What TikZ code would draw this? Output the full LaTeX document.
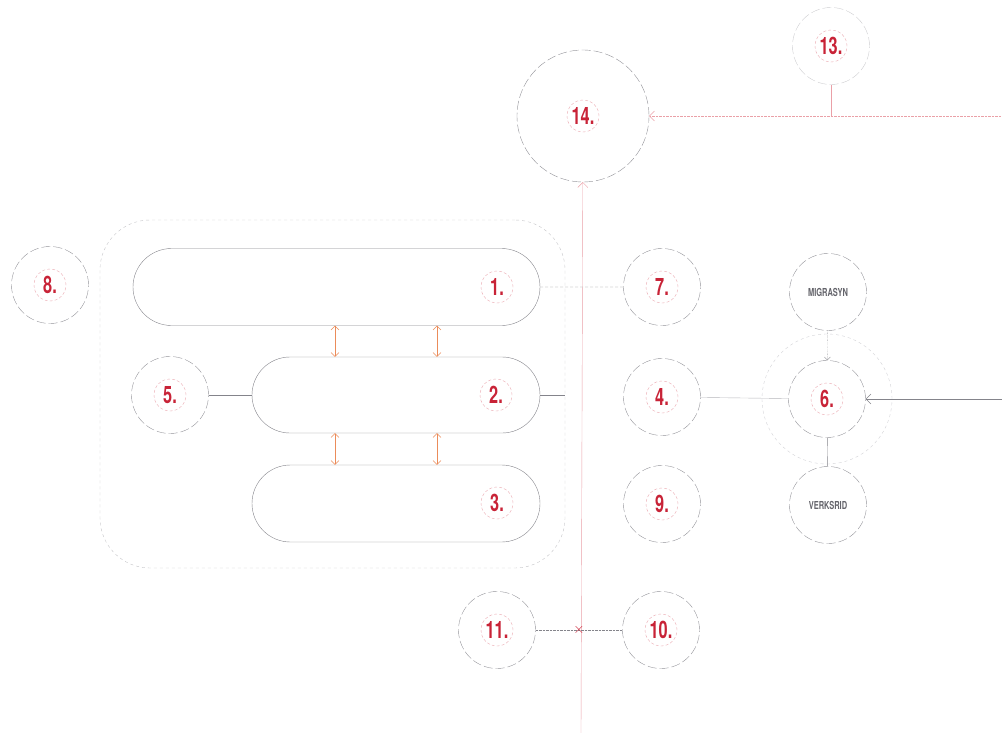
\documentclass[tikz,border=0pt]{standalone}
\usepackage{fontspec}
\usepackage{tikz}
\usetikzlibrary{arrows.meta,shapes.misc}
\usepackage{xcolor}
\newfontfamily\tagfont[FakeStretch=0.68]{TeX Gyre Heros}
\definecolor{tagred}{RGB}{200,35,55}
\definecolor{ringgrey}{RGB}{110,110,118}
\definecolor{linkpink}{RGB}{225,120,130}
\definecolor{pairorange}{RGB}{235,140,90}

\begin{document}
\begin{tikzpicture}[x=1pt, y=-1pt,
    ring/.style={circle, draw=ringgrey!75, dash pattern=on 9pt off 3pt, thin,
      minimum size=77pt, inner sep=0pt},
    tag/.style={circle, draw=tagred!40, densely dashed, thin, inner sep=0pt,
      minimum size=32pt, text=tagred, font=\tagfont\bfseries\fontsize{24}{26}\selectfont},
    word/.style={text=ringgrey!90!black, font=\tagfont\bfseries\fontsize{11}{12}\selectfont},
    pill/.style={rounded rectangle, draw=ringgrey!85, thin, inner sep=0pt},
    link/.style={draw=ringgrey!85, thin},
    spine/.style={draw=linkpink!70, thin},
    pair/.style={pairorange, thin, {Straight Barb[length=4pt]}-{Straight Barb[length=4pt]}},
  ]
  \useasboundingbox (0,0) rectangle (1002,733);

  % Group of the three stages
  \node[rounded corners=50pt, draw=ringgrey!40, dashed, minimum width=465pt,
    minimum height=348pt, inner sep=0pt] (group) at (332.5,394) {};
  \node[pill, minimum width=407pt, minimum height=77pt] (p1) at (336.5,287) {};
  \node[pill, minimum width=288pt, minimum height=76pt] (p2) at (396,395) {};
  \node[pill, minimum width=288pt, minimum height=77pt] (p3) at (396,503.5) {};
  \node[tag] (t1) at (497,287) {1.};
  \node[tag] (t2) at (496,395) {2.};
  \node[tag] (t3) at (497,503) {3.};
  \foreach \x in {335,437}{
    \draw[pair] (\x,0 |- p1.south) -- (\x,0 |- p2.north);
    \draw[pair] (\x,0 |- p2.south) -- (\x,0 |- p3.north);
  }

  % Numbered rings
  \foreach \name/\x/\y/\txt in {n8/50/285/8., n5/170/395/5., n7/662/287/7.,
      n4/662/397/4., n9/662/504/9., n10/661/630/10., n11/497/630/11.,
      n6/827/399/6.}{
    \node[ring] (\name) at (\x,\y) {};
    \node[tag] (t\name) at (\name) {\txt};
  }
  \node[ring, minimum size=132pt] (n14) at (583,116) {};
  \node[tag] (tn14) at (n14) {14.};
  \node[ring, draw=ringgrey!35] (n13) at (831,46) {};
  \node[tag] (tn13) at (n13) {13.};

  % Rings round 6
  \node[circle, draw=ringgrey!30, dashed, minimum size=130pt] (halo) at (n6) {};
  \node[ring, word] (mig) at (828,292) {MIGRASYN};
  \node[ring, word] (ver) at (828,505) {VERKSRID};

  % Connectors
  \coordinate (foot) at (581,733);
  \coordinate (feed13) at (1002,116);
  \coordinate (join13) at (831,116);
  \coordinate (feed6) at (1002,399);
  \draw[spine, -{Straight Barb[length=5pt]}] (foot) -- (n14);
  \draw[spine, densely dotted, -{Straight Barb[length=5pt]}] (feed13) -- (n14);
  \draw[spine] (n13) -- (join13);
  \draw[link, -{Straight Barb[length=5pt]}] (feed6) -- (n6);
  \draw[link, draw=ringgrey!50] (n4) -- (n6);
  \draw[link, densely dotted, -{Straight Barb[length=3pt]}] (mig) -- (n6);
  \draw[link] (n6) -- (ver);
  \draw[link, densely dashed] (p1) -- (n7);
  \draw[link] (n5) -- (p2);
  \draw[link] (p2.east) -- (p2.east -| group.east);
  \draw[link, densely dotted] (n11) -- (n10);
  \node[text=tagred, inner sep=0pt, font=\Large] (cross) at (579,630) {$\times$};
\end{tikzpicture}
\end{document}
